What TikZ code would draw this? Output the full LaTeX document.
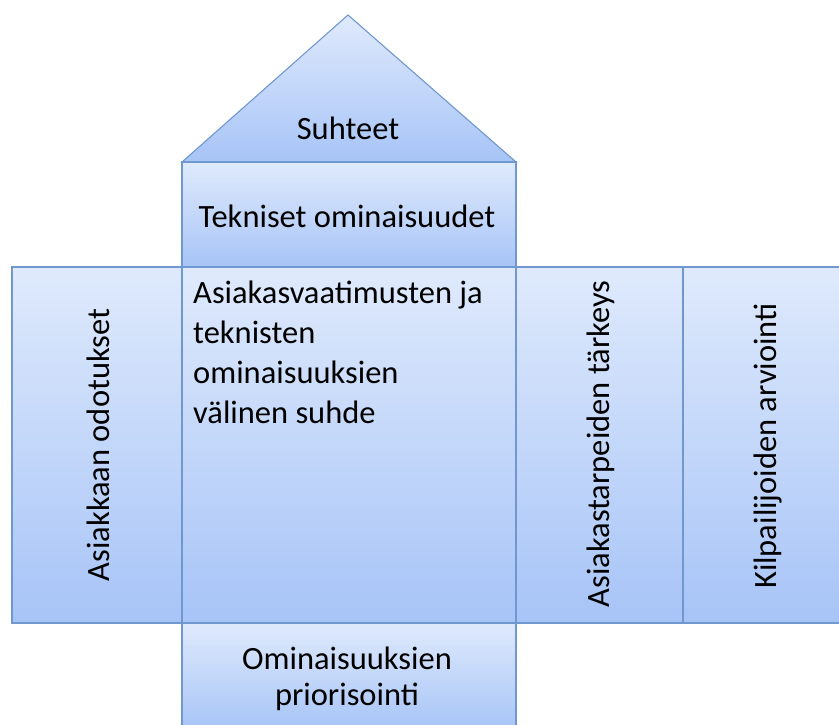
\documentclass[tikz,border=0pt]{standalone}
\usepackage{fontspec}
\setmainfont{Carlito}
\definecolor{boxtop}{HTML}{DFEAFC}
\definecolor{boxbottom}{HTML}{A7C4F7}
\definecolor{boxline}{HTML}{7197CF}
\begin{document}
\begin{tikzpicture}[x=1pt,y=-1pt,
  panel/.style={draw=boxline,line width=1.1pt,top color=boxtop,bottom color=boxbottom,line join=miter},
  label/.style={font=\fontsize{32.5}{40}\selectfont,text=black,inner sep=0pt},
  vlabel/.style={label,rotate=90}]
  \useasboundingbox (0,0) rectangle (839,724);
  % roof
  \path[panel] (182,162) -- (348,15) -- (516,162) -- cycle;
  % technical features
  \path[panel] (182,162) rectangle (516,267);
  % middle row
  \path[panel] (12,267) rectangle (182,623);
  \path[panel] (182,267) rectangle (516,623);
  \path[panel] (516,267) rectangle (683,623);
  \path[panel] (683,267) rectangle (842,623);
  % prioritisation
  \path[panel] (182,623) rectangle (516,730);

  \node[label] (roof) at (348,128) {Suhteet};
  \node[label] (tech) at (347,216) {Tekniset ominaisuudet};
  \node[label,anchor=north west,align=left] (rel) at (193,281)
    {Asiakasvaatimusten ja\\teknisten\\ominaisuuksien\\välinen suhde};
  \node[vlabel] (cust) at (98,445) {Asiakkaan odotukset};
  \node[vlabel] (imp) at (601,444) {Asiakastarpeiden tärkeys};
  \node[vlabel] (comp) at (768,446) {Kilpailijoiden arviointi};
  \node[label,align=center,font=\fontsize{32.5}{36}\selectfont] (prio) at (347,679)
    {Ominaisuuksien\\priorisointi};
\end{tikzpicture}
\end{document}
